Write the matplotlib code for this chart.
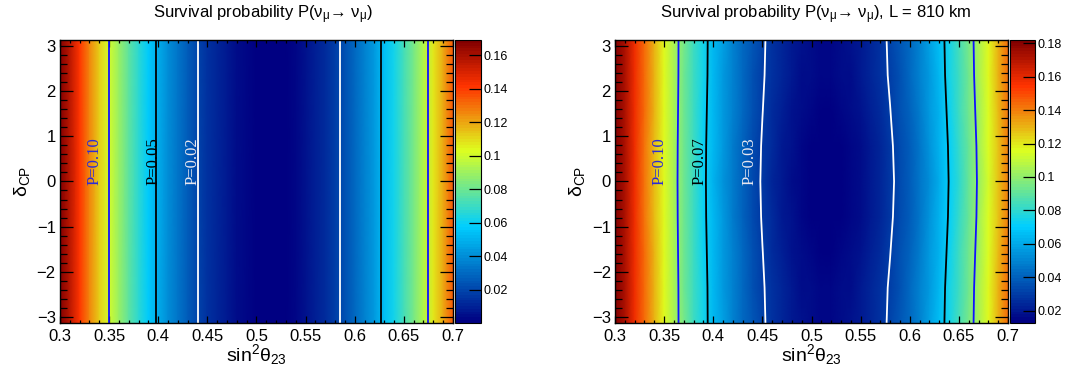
import numpy as np
import matplotlib.pyplot as plt
from matplotlib.colors import LinearSegmentedColormap
from matplotlib.ticker import MultipleLocator, FuncFormatter

plt.rcParams['font.family'] = ['Liberation Sans', 'DejaVu Sans']
plt.rcParams['mathtext.fontset'] = 'custom'
plt.rcParams['mathtext.rm'] = 'Liberation Sans'
plt.rcParams['mathtext.it'] = 'Liberation Sans'
plt.rcParams['mathtext.default'] = 'regular'

# sin^2(theta23) grid, 0.30 ... 0.70 in steps of 0.01
sin2_th23 = np.linspace(0.30, 0.70, 41)

# left panel: no delta_CP dependence
delta_left = [-np.pi, np.pi]
p_left = [0.169, 0.1558, 0.1408, 0.1266, 0.1131, 0.1003, 0.0884, 0.0772, 0.0667, 0.0570,
          0.0481, 0.0399, 0.0325, 0.0259, 0.0200, 0.0148, 0.0105, 0.0069, 0.0040, 0.0019,
          0.0006, 0.0001, 0.0002, 0.0012, 0.0029, 0.0053, 0.0086, 0.0126, 0.0173, 0.0228,
          0.0291, 0.0361, 0.0439, 0.0525, 0.0618, 0.0718, 0.0827, 0.0943, 0.1066, 0.1197,
          0.1336]

# right panel (L = 810 km): one row per |delta_CP| = pi, 3pi/4, pi/2, pi/4, 0
p_right_pi = [0.181, 0.1724, 0.1574, 0.1433, 0.1298, 0.1171, 0.1052, 0.0940, 0.0836, 0.0739,
              0.0649, 0.0567, 0.0493, 0.0426, 0.0366, 0.0314, 0.0269, 0.0232, 0.0202, 0.0180,
              0.0165, 0.0158, 0.0158, 0.0166, 0.0181, 0.0203, 0.0233, 0.0271, 0.0316, 0.0368,
              0.0428, 0.0496, 0.0570, 0.0653, 0.0742, 0.0840, 0.0944, 0.1057, 0.1176, 0.1304,
              0.1438]
p_right_3q = [0.181, 0.1724, 0.1574, 0.1432, 0.1297, 0.1170, 0.1051, 0.0938, 0.0834, 0.0737,
              0.0647, 0.0564, 0.0490, 0.0423, 0.0362, 0.0310, 0.0265, 0.0228, 0.0198, 0.0176,
              0.0161, 0.0153, 0.0153, 0.0161, 0.0176, 0.0198, 0.0228, 0.0266, 0.0311, 0.0363,
              0.0423, 0.0490, 0.0564, 0.0647, 0.0736, 0.0834, 0.0938, 0.1051, 0.1170, 0.1298,
              0.1432]
p_right_half = [0.181, 0.1724, 0.1573, 0.1431, 0.1295, 0.1167, 0.1047, 0.0934, 0.0829, 0.0731,
                0.0641, 0.0558, 0.0483, 0.0415, 0.0354, 0.0302, 0.0256, 0.0219, 0.0188, 0.0165,
                0.0150, 0.0142, 0.0142, 0.0149, 0.0164, 0.0186, 0.0216, 0.0253, 0.0298, 0.0350,
                0.0410, 0.0477, 0.0551, 0.0634, 0.0723, 0.0821, 0.0925, 0.1038, 0.1157, 0.1285,
                0.1419]
p_right_q = [0.1817, 0.1723, 0.1572, 0.1429, 0.1292, 0.1163, 0.1043, 0.0930, 0.0823, 0.0725,
             0.0635, 0.0551, 0.0475, 0.0407, 0.0346, 0.0293, 0.0247, 0.0209, 0.0178, 0.0154,
             0.0139, 0.0131, 0.0131, 0.0137, 0.0152, 0.0174, 0.0203, 0.0240, 0.0285, 0.0337,
             0.0397, 0.0464, 0.0538, 0.0620, 0.0710, 0.0807, 0.0912, 0.1024, 0.1144, 0.1271,
             0.1406]
p_right_zero = [0.182, 0.1723, 0.1571, 0.1428, 0.1291, 0.1162, 0.1041, 0.0928, 0.0821, 0.0723,
                0.0632, 0.0548, 0.0472, 0.0404, 0.0342, 0.0289, 0.0243, 0.0205, 0.0174, 0.0150,
                0.0135, 0.0126, 0.0126, 0.0132, 0.0147, 0.0169, 0.0198, 0.0235, 0.0279, 0.0331,
                0.0391, 0.0458, 0.0532, 0.0614, 0.0704, 0.0801, 0.0906, 0.1018, 0.1138, 0.1265,
                0.1400]
delta_right = np.pi * np.array([-1, -0.75, -0.5, -0.25, 0, 0.25, 0.5, 0.75, 1])
rows_right = [p_right_pi, p_right_3q, p_right_half, p_right_q, p_right_zero,
              p_right_q, p_right_half, p_right_3q, p_right_pi]

levels_left = [0.02, 0.05, 0.10]
levels_right = [0.03, 0.07, 0.10]
line_colors = ['white', 'black', '#1010ff']
text_colors = ['#e8e8f0', 'black', '#2a2ad8']
label_x_left = [0.4352, 0.395, 0.3354]
label_x_right = [0.4365, 0.3856, 0.3458]

# ROOT style rainbow palette
stops = [0.00, 0.34, 0.61, 0.84, 1.00]
red = [0.00, 0.00, 0.87, 1.00, 0.51]
green = [0.00, 0.81, 1.00, 0.20, 0.00]
blue = [0.51, 1.00, 0.12, 0.00, 0.00]
cmap = LinearSegmentedColormap.from_list(
    'root_pretty', [(s, (r, g, b)) for s, r, g, b in zip(stops, red, green, blue)], N=100)

fmt = FuncFormatter(lambda v, pos: f"{v:g}".replace('-', '\u2212'))


def draw_panel(ax, cax, deltas, z, levels, label_x, title, title_x):
    z = np.array(z)
    S, D = np.meshgrid(sin2_th23, deltas)
    mesh = ax.pcolormesh(S, D, z, shading='gouraud', cmap=cmap,
                         vmin=z.min(), vmax=z.max(), rasterized=True)
    ax.contour(S, D, z, levels=levels, colors=line_colors, linewidths=1.3)
    for lvl, lx, c in zip(levels, label_x, text_colors):
        ax.text(lx, 0.46, f"P={lvl:.2f}", rotation=90, ha='center', va='center',
                color=c, family='Liberation Serif', fontsize=12)

    ax.set_xlim(0.3, 0.7)
    ax.set_ylim(-np.pi, np.pi)
    ax.xaxis.set_major_locator(MultipleLocator(0.05))
    ax.xaxis.set_minor_locator(MultipleLocator(0.01))
    ax.yaxis.set_major_locator(MultipleLocator(1))
    ax.yaxis.set_minor_locator(MultipleLocator(0.2))
    ax.xaxis.set_major_formatter(fmt)
    ax.yaxis.set_major_formatter(fmt)
    ax.tick_params(which='both', direction='in', top=True, right=True,
                   labelsize=12, width=0.9, color='black')
    ax.tick_params(axis='x', which='major', length=5, pad=4)
    ax.tick_params(axis='x', which='minor', length=2.5)
    ax.tick_params(axis='y', which='major', length=9.5, pad=3)
    ax.tick_params(axis='y', which='minor', length=4.7)
    for sp in ax.spines.values():
        sp.set_linewidth(1.0)

    ax.set_xlabel(r'sin$^{2}\theta_{23}$', fontsize=14)
    ax.xaxis.set_label_coords(0.5, -0.113)
    ax.xaxis.label.set_va('center')
    ax.set_ylabel(r'$\delta_{CP}$', fontsize=14)
    ax.yaxis.set_label_coords(-0.097, 0.5)
    ax.yaxis.label.set_va('center')

    cb = fig.colorbar(mesh, cax=cax)
    cb.set_ticks(np.arange(0.02, z.max(), 0.02))
    cb.ax.yaxis.set_major_formatter(fmt)
    cb.ax.tick_params(direction='in', length=8.5, width=0.9, labelsize=9, pad=2)
    cb.outline.set_linewidth(0.8)

    fig.text(title_x, 0.962, title, ha='center', va='center', fontsize=12)


fig = plt.figure(figsize=(10.67, 3.74), dpi=100)
ax1 = fig.add_axes([0.0562, 0.1364, 0.3683, 0.7567])
cax1 = fig.add_axes([0.4264, 0.1364, 0.0244, 0.7567])
ax2 = fig.add_axes([0.5764, 0.1364, 0.3683, 0.7567])
cax2 = fig.add_axes([0.9466, 0.1364, 0.0234, 0.7567])

draw_panel(ax1, cax1, delta_left, [p_left, p_left], levels_left, label_x_left,
           'Survival probability P(\u03bd$_{\\mu}$\u2192 \u03bd$_{\\mu}$)', 0.2465)
draw_panel(ax2, cax2, delta_right, rows_right, levels_right, label_x_right,
           'Survival probability P(\u03bd$_{\\mu}$\u2192 \u03bd$_{\\mu}$), L = 810 km', 0.765)

fig.savefig('out.png', dpi=100)
